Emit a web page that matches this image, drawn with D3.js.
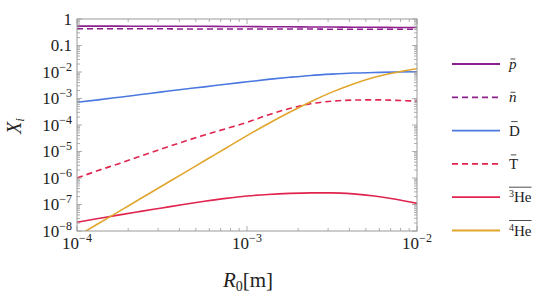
<!DOCTYPE html>
<html>
<head>
<meta charset="utf-8">
<script src="https://cdn.jsdelivr.net/npm/d3@7"></script>
<style>
  body { margin: 0; background: #fff; }
  text { font-family: "Liberation Serif", "DejaVu Serif", serif; fill: #222; }
</style>
</head>
<body>
<svg id="chart" width="540" height="297"></svg>
<script>
// R0 values (m), one every 1/8 decade
const radius = [1.00e-4, 1.33e-4, 1.78e-4, 2.37e-4, 3.16e-4, 4.22e-4, 5.62e-4, 7.50e-4,
  1.00e-3, 1.33e-3, 1.78e-3, 2.37e-3, 3.16e-3, 4.22e-3, 5.62e-3, 7.50e-3, 1.00e-2];

const pbar = [0.54, 0.54, 0.54, 0.53, 0.53, 0.53, 0.53, 0.52, 0.52, 0.51, 0.51, 0.50, 0.50, 0.49, 0.49, 0.48, 0.48];
const nbar = [0.43, 0.43, 0.43, 0.43, 0.43, 0.42, 0.42, 0.42, 0.42, 0.42, 0.42, 0.42, 0.41, 0.41, 0.41, 0.41, 0.41];
const dbar = [7.24e-4, 8.9e-4, 1.12e-3, 1.41e-3, 1.78e-3, 2.24e-3, 2.75e-3, 3.47e-3, 4.27e-3,
  5.25e-3, 6.31e-3, 7.41e-3, 8.32e-3, 9.12e-3, 9.55e-3, 1.0e-2, 1.02e-2];
const tbar = [1.0e-6, 1.91e-6, 3.55e-6, 6.76e-6, 1.26e-5, 2.34e-5, 4.17e-5, 7.24e-5, 1.26e-4,
  2.4e-4, 4.17e-4, 6.31e-4, 7.94e-4, 8.71e-4, 8.91e-4, 8.51e-4, 7.94e-4];
const he3bar = [2.14e-8, 2.95e-8, 4.07e-8, 5.5e-8, 7.41e-8, 1.0e-7, 1.32e-7, 1.7e-7, 2.09e-7,
  2.4e-7, 2.63e-7, 2.75e-7, 2.75e-7, 2.51e-7, 2.09e-7, 1.58e-7, 1.1e-7];
const he4bar = [6.31e-9, 1.88e-8, 5.62e-8, 1.68e-7, 5.01e-7, 1.5e-6, 4.47e-6, 1.33e-5, 3.98e-5,
  1.12e-4, 3.02e-4, 7.59e-4, 1.74e-3, 3.55e-3, 6.31e-3, 9.55e-3, 1.32e-2];

const xTicks = [1e-4, 1e-3, 1e-2];
const xTickExp = ["−4", "−3", "−2"];
const yTicks = [1, 0.1, 1e-2, 1e-3, 1e-4, 1e-5, 1e-6, 1e-7, 1e-8];
const yTickLabels = ["1", "0.1", "10|−2", "10|−3", "10|−4", "10|−5", "10|−6", "10|−7", "10|−8"];

const series = [
  { name: "p", values: pbar, color: "#8e1f8e", dash: null },
  { name: "n", values: nbar, color: "#8e1f8e", dash: "6,4" },
  { name: "D", values: dbar, color: "#4a78e0", dash: null },
  { name: "T", values: tbar, color: "#e0244e", dash: "6,4" },
  { name: "3He", values: he3bar, color: "#e0244e", dash: null },
  { name: "4He", values: he4bar, color: "#e2a52c", dash: null }
];

const svg = d3.select("#chart");
const plotL = 77, plotR = 417, plotT = 19, plotB = 231;

const x = d3.scaleLog().domain([1e-4, 1e-2]).range([plotL, plotR]);
const y = d3.scaleLog().domain([1e-8, 1]).range([plotB, plotT]);

svg.append("clipPath").attr("id", "clip")
  .append("rect").attr("x", plotL).attr("y", plotT)
  .attr("width", plotR - plotL).attr("height", plotB - plotT);

// curves
const line = d3.line()
  .x((d, i) => x(radius[i]))
  .y(d => y(d))
  .curve(d3.curveMonotoneX);

const curves = svg.append("g").attr("clip-path", "url(#clip)");
series.forEach(s => {
  curves.append("path")
    .attr("d", line(s.values))
    .attr("fill", "none")
    .attr("stroke", s.color)
    .attr("stroke-width", 1.6)
    .attr("stroke-dasharray", s.dash);
});

// frame with inward ticks
const frameColor = "#9a9a9a";
svg.append("rect")
  .attr("x", plotL).attr("y", plotT)
  .attr("width", plotR - plotL).attr("height", plotB - plotT)
  .attr("fill", "none").attr("stroke", frameColor).attr("stroke-width", 1);

const ticks = svg.append("g").attr("stroke", frameColor).attr("stroke-width", 0.8);

function minorTicks(lo, hi) {
  const out = [];
  for (let e = lo; e < hi; e++)
    for (let m = 1; m < 10; m++) out.push({ v: m * Math.pow(10, e), major: m === 1 });
  out.push({ v: Math.pow(10, hi), major: true });
  return out;
}

minorTicks(-4, -2).forEach(t => {
  const px = x(t.v), len = t.major ? 5 : 3;
  ticks.append("line").attr("x1", px).attr("x2", px).attr("y1", plotB).attr("y2", plotB - len);
  ticks.append("line").attr("x1", px).attr("x2", px).attr("y1", plotT).attr("y2", plotT + len);
});
minorTicks(-8, 0).forEach(t => {
  const py = y(t.v), len = t.major ? 5 : 3;
  ticks.append("line").attr("x1", plotL).attr("x2", plotL + len).attr("y1", py).attr("y2", py);
  ticks.append("line").attr("x1", plotR).attr("x2", plotR - len).attr("y1", py).attr("y2", py);
});

// tick labels
xTicks.forEach((v, i) => {
  const t = svg.append("text")
    .attr("x", x(v)).attr("y", 249)
    .attr("text-anchor", "middle")
    .style("font-size", "17px");
  t.append("tspan").text("10");
  t.append("tspan").attr("dy", -7).style("font-size", "12px").text(xTickExp[i]);
});

yTicks.forEach((v, i) => {
  const parts = yTickLabels[i].split("|");
  const t = svg.append("text")
    .attr("x", 72).attr("y", y(v) + 5.5)
    .attr("text-anchor", "end")
    .style("font-size", "17px");
  t.append("tspan").text(parts[0]);
  if (parts[1]) t.append("tspan").attr("dy", -7).style("font-size", "12px").text(parts[1]);
});

// axis titles
const xt = svg.append("text")
  .attr("x", 248).attr("y", 287)
  .attr("text-anchor", "middle")
  .style("font-size", "21px");
xt.append("tspan").style("font-style", "italic").text("R");
xt.append("tspan").attr("dy", 4).style("font-size", "14px").text("0");
xt.append("tspan").attr("dy", -4).text("[m]");

const yt = svg.append("text")
  .attr("transform", "translate(21,126) rotate(-90)")
  .attr("text-anchor", "middle")
  .style("font-size", "20px");
yt.append("tspan").style("font-style", "italic").text("X");
yt.append("tspan").attr("dy", 3).style("font-size", "13px").style("font-style", "italic").text("i");

// legend
const legend = svg.append("g");
series.forEach((s, i) => {
  const ly = 64 + i * 33.3;
  legend.append("line")
    .attr("x1", 452).attr("x2", 500).attr("y1", ly).attr("y2", ly)
    .attr("stroke", s.color).attr("stroke-width", 1.8)
    .attr("stroke-dasharray", s.dash);

  const t = legend.append("text")
    .attr("x", 509).attr("y", ly + 5)
    .style("font-size", "15px");
  if (s.name === "p" || s.name === "n") {
    t.style("font-style", "italic").text(s.name);
    const w = t.node().getComputedTextLength();
    legend.append("line").attr("x1", 509 + w * 0.2).attr("x2", 509 + w * 0.85)
      .attr("y1", ly - 5).attr("y2", ly - 5).attr("stroke", "#222").attr("stroke-width", 0.8);
  } else if (s.name === "D" || s.name === "T") {
    t.text(s.name);
    const w = t.node().getComputedTextLength();
    legend.append("line").attr("x1", 509 + w * 0.2).attr("x2", 509 + w * 0.8)
      .attr("y1", ly - 9).attr("y2", ly - 9).attr("stroke", "#222").attr("stroke-width", 0.8);
  } else {
    t.append("tspan").attr("dy", -5).style("font-size", "10px").text(s.name[0]);
    t.append("tspan").attr("dy", 5).text("He");
    const w = t.node().getComputedTextLength();
    legend.append("line").attr("x1", 509).attr("x2", 509 + w)
      .attr("y1", ly - 10).attr("y2", ly - 10).attr("stroke", "#222").attr("stroke-width", 0.8);
  }
});
</script>
</body>
</html>
